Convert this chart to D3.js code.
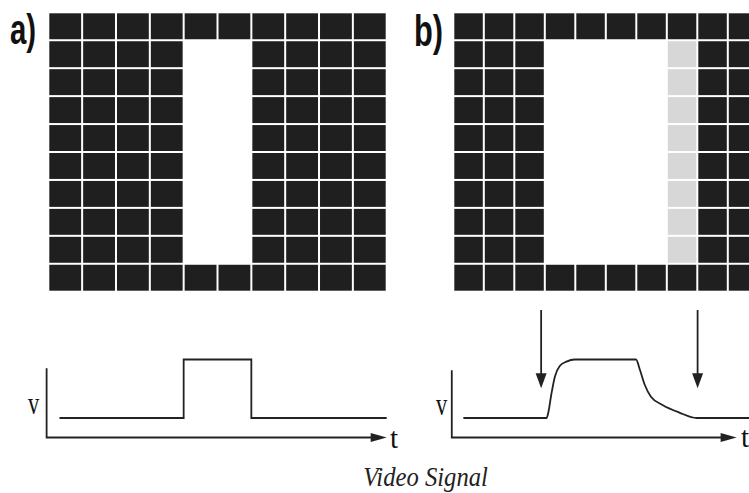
<!DOCTYPE html>
<html><head><meta charset="utf-8">
<script src="https://cdn.jsdelivr.net/npm/d3@7"></script>
<style>body{margin:0;background:#fff}svg{display:block}</style>
</head><body>
<svg id="c" width="749" height="493"></svg>
<script>
// ---- data ----
const rows = 10;
const colsA = 10, colsB = 11;
// brightness of middle rows (1..8) per column; 0 = dark, 1 = white
const levelsA = [0,0,0,0,1,1,0,0,0,0];
const levelsB = [0,0,0,1,1,1,1,0.82,0,0,0];
const brightRows = [1,2,3,4,5,6,7,8];
// video signal samples: t in column units, v in arbitrary units
const sigA_t = [0.33,4,4,6,6,10];
const sigA_v = [1,1,4,4,1,1];
const sigB_t = [0.33,3.06,3.11,3.22,3.33,3.49,3.71,3.98,5.99,6.12,6.28,6.48,6.86,7.41,7.98,9.75];
const sigB_v = [1,1,1.24,2.27,3.12,3.67,3.89,4,4,3.46,2.69,2.09,1.67,1.28,1,1];
const arrowsB_t = [2.88,8.01];
const labels = {a:"a)", b:"b)", v:"v", t:"t", caption:"Video Signal"};

const svg = d3.select("#c");
const dark = "#1f1f1f", ink = "#222";

const yRow = d3.scaleLinear([0,rows],[12.3,291.7]);
const xA = d3.scaleLinear([0,10],[48.3,386.7]);
const xB = d3.scaleLinear([0,10],[453.3,758.3]);
const yV = d3.scaleLinear([0,4],[437.5,359.5]);

function color(level){
  if(level>=1) return "#ffffff";
  if(level<=0) return dark;
  return d3.interpolateRgb(dark,"#ffffff")(level);
}

function grid(x, cols, levels){
  const cells=[];
  for(let r=0;r<rows;r++) for(let c=0;c<cols;c++){
    const lv = brightRows.includes(r) ? levels[c] : 0;
    cells.push({r,c,lv});
  }
  svg.append("g").selectAll("rect").data(cells).join("rect")
    .attr("x",d=>x(d.c)+1).attr("y",d=>yRow(d.r)+1)
    .attr("width",d=>x(d.c+1)-x(d.c)-2).attr("height",d=>yRow(d.r+1)-yRow(d.r)-2)
    .attr("fill",d=>color(d.lv));
}
grid(xA,colsA,levelsA);
grid(xB,colsB,levelsB);

function axes(x, tipT, yTopV){
  const g = svg.append("g");
  const x0 = x(-0.05);
  g.append("path").attr("d",`M${x0},${yV(yTopV)}V${yV(0)}H${x(tipT)-8}`)
    .attr("fill","none").attr("stroke",ink).attr("stroke-width",1.8);
  const tx=x(tipT), ty=yV(0);
  g.append("path").attr("d",`M${tx},${ty}L${tx-16},${ty-4.5}L${tx-16},${ty+4.5}Z`).attr("fill",ink);
}
axes(xA,10,3.55);
axes(xB,9.29,3.45);

const lineA = d3.line().x((d,i)=>xA(d)).y((d,i)=>yV(sigA_v[i]));
svg.append("path").attr("d",lineA(sigA_t)).attr("fill","none").attr("stroke",ink).attr("stroke-width",1.8);
const lineB = d3.line().x(d=>xB(d)).y((d,i)=>yV(sigB_v[i])).curve(d3.curveMonotoneX);
svg.append("path").attr("d",lineB(sigB_t)).attr("fill","none").attr("stroke",ink).attr("stroke-width",1.8);

// arrows
arrowsB_t.forEach(t=>{
  const ax=xB(t), top=yV(6.54), tip=yV(2.52);
  svg.append("line").attr("x1",ax).attr("x2",ax).attr("y1",top).attr("y2",tip-10)
    .attr("stroke",ink).attr("stroke-width",1.8);
  svg.append("path").attr("d",`M${ax},${tip}L${ax-5.5},${tip-15}L${ax+5.5},${tip-15}Z`).attr("fill",ink);
});

// text
function txt(s,x,y,opt){
  const t = svg.append("text").text(s)
    .attr("transform",`translate(${x},${y}) scale(${opt.sx||1},1)`)
    .attr("font-family",opt.ff).attr("font-size",opt.fs)
    .attr("font-weight",opt.fw||"normal").attr("font-style",opt.st||"normal")
    .attr("text-anchor",opt.anchor||"start").attr("fill",opt.fill||"#111");
  return t;
}
const sans = "Liberation Sans, Arial, sans-serif";
const serif = "Liberation Serif, Times New Roman, serif";
txt(labels.a,10,44,{ff:sans,fs:42,fw:"bold",sx:0.7});
txt(labels.b,414,46,{ff:sans,fs:44,fw:"bold",sx:0.7});
txt(labels.v,28,414,{ff:serif,fs:32,sx:0.7});
txt(labels.v,436,415,{ff:serif,fs:32,sx:0.7});
txt(labels.t,390,448,{ff:serif,fs:29});
txt(labels.t,741,447,{ff:serif,fs:29});
txt(labels.caption,425.5,486,{ff:serif,fs:28,st:"italic",anchor:"middle",fill:"#222",sx:0.88});
</script>
</body></html>
